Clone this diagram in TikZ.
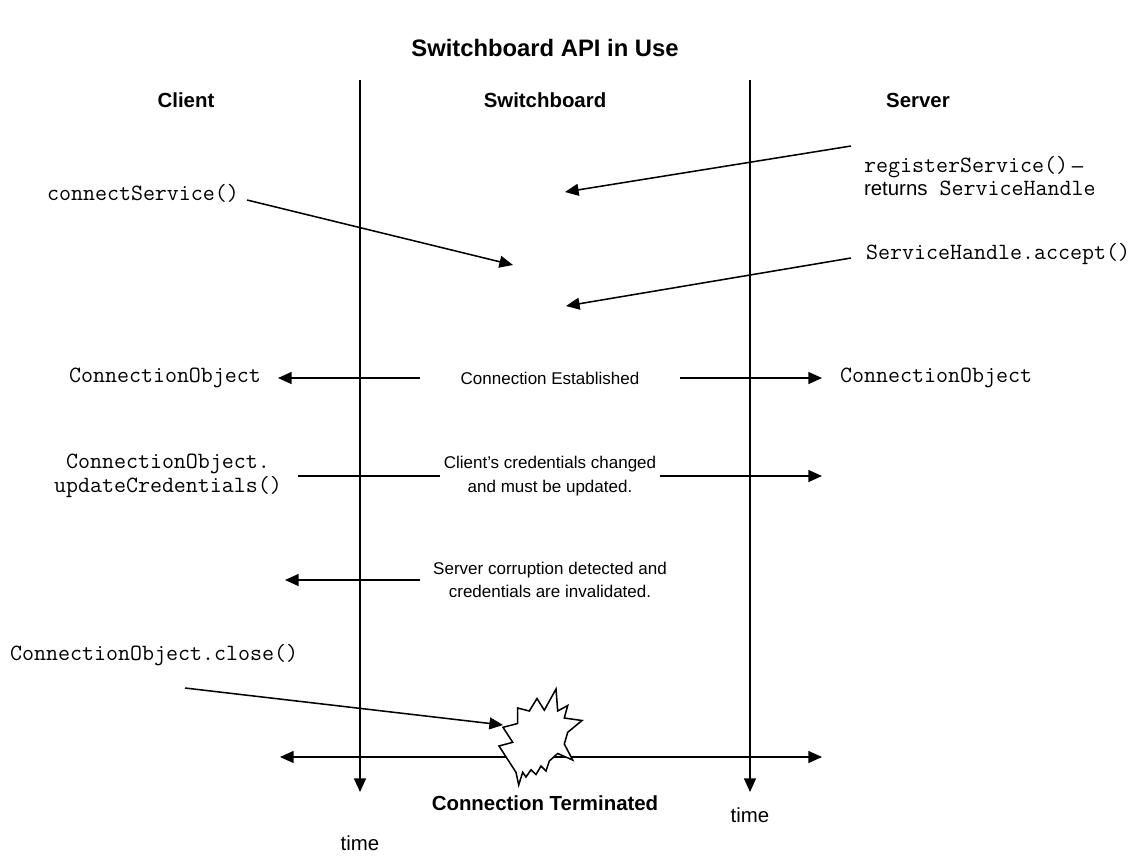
\documentclass[tikz,border=0pt]{standalone}
\usepackage{fontspec}
\setmainfont{Liberation Sans}
\usetikzlibrary{arrows.meta,positioning}

\begin{document}
\begin{tikzpicture}[x=0.588pt, y=-0.588pt,
    msg/.style={line width=0.9pt, -{Triangle[length=8pt,width=7pt]}},
    both/.style={line width=0.9pt, {Triangle[length=8pt,width=7pt]}-{Triangle[length=8pt,width=7pt]}},
    head/.style={font=\fontsize{12}{14}\selectfont\bfseries},
    call/.style={font=\fontsize{13.7}{14}\selectfont\ttfamily, inner sep=1pt},
    note/.style={font=\fontsize{10}{14}\selectfont, align=center, fill=white, inner sep=2pt},
    tick/.style={font=\fontsize{12}{14}\selectfont}]

    \useasboundingbox (0,0) rectangle (1141,858);

    \node[font=\fontsize{14}{16}\selectfont\bfseries] (title) at (545,48) {Switchboard API in Use};

    % the three columns
    \node[head] (client) at (186,100) {Client};
    \node[head] (switch) at (545,100) {Switchboard};
    \node[head] (server) at (918,100) {Server};

    \coordinate (cltop) at (360,80);
    \coordinate (clbot) at (360,792);
    \coordinate (svtop) at (750,80);
    \coordinate (svbot) at (750,792);
    \draw[msg] (cltop) -- (clbot);
    \draw[msg] (svtop) -- (svbot);
    \node[tick] (cltime) at (360,843) {time};
    \node[tick] (svtime) at (750,815) {time};

    % set up
    \node[call, anchor=west, align=left] (register) at (862,176)
        {registerService()\,{\rmfamily\fontsize{12}{14}\selectfont --}\\{\rmfamily\fontsize{12}{14}\selectfont returns} ServiceHandle};
    \coordinate (registerstart) at (851,146);
    \coordinate (registerend) at (565,192);
    \draw[msg] (registerstart) -- (registerend);

    \node[call] (connect) at (143,193) {connectService()};
    \coordinate (connectend) at (513,265);
    \draw[msg] (connect.east) ++(6,7) -- (connectend);

    \node[call, anchor=west] (accept) at (864,254) {ServiceHandle.accept()};
    \coordinate (acceptend) at (566,306);
    \draw[msg] (accept.west) ++(-13,4) -- (acceptend);

    % established
    \node[call] (clobj) at (165,378) {ConnectionObject};
    \node[call] (svobj) at (936,378) {ConnectionObject};
    \node[note] (established) at (550,378) {Connection Established};
    \coordinate (estl) at (420,378);
    \coordinate (estr) at (680,378);
    \coordinate (clobjtip) at (278,378);
    \coordinate (svobjtip) at (822,378);
    \draw[msg] (estl) -- (clobjtip);
    \draw[msg] (estr) -- (svobjtip);

    % credentials
    \node[call, align=center] (update) at (168,476) {ConnectionObject.\\updateCredentials()};
    \coordinate (updatestart) at (298,476);
    \coordinate (updateend) at (822,476);
    \draw[msg] (updatestart) -- (updateend);
    \node[note] (changed) at (550,476) {Client's credentials changed\\and must be updated.};

    \coordinate (corruptstart) at (420,580);
    \coordinate (corruptend) at (285,580);
    \draw[msg] (corruptstart) -- (corruptend);
    \node[note] (corrupt) at (550,580) {Server corruption detected and\\credentials are invalidated.};

    % termination
    \node[call, anchor=west] (close) at (8,655) {ConnectionObject.close()};
    \coordinate (closestart) at (185,688);
    \coordinate (closeend) at (503,725);
    \coordinate (terml) at (280,757);
    \coordinate (termr) at (822,757);
    \draw[both] (terml) -- (termr);
    \draw[msg] (closestart) -- (closeend);
    \begin{scope}[shift={(-4,-5)}]
    \draw[line width=0.9pt, fill=white] (521.7,713) -- (533.3,716) -- (541,703.5) -- (548.3,715.2)
        -- (560,694) -- (561.7,716) -- (571.7,710.5) -- (568.3,723) -- (586,725.5)
        -- (571.7,737.3) -- (568.3,749) -- (576.7,765) -- (561.7,758.5) -- (553.3,766)
        -- (550,776) -- (545,771) -- (540,779.5) -- (535,774.8) -- (530,782)
        -- (526.7,777.3) -- (522.7,790) -- (520,777.3) -- (503,751) -- (516.7,747.3)
        -- (507,732.3) -- (521.7,728.5) -- cycle;
    \end{scope}
    \node[head] (terminated) at (545,803) {Connection Terminated};
\end{tikzpicture}
\end{document}
